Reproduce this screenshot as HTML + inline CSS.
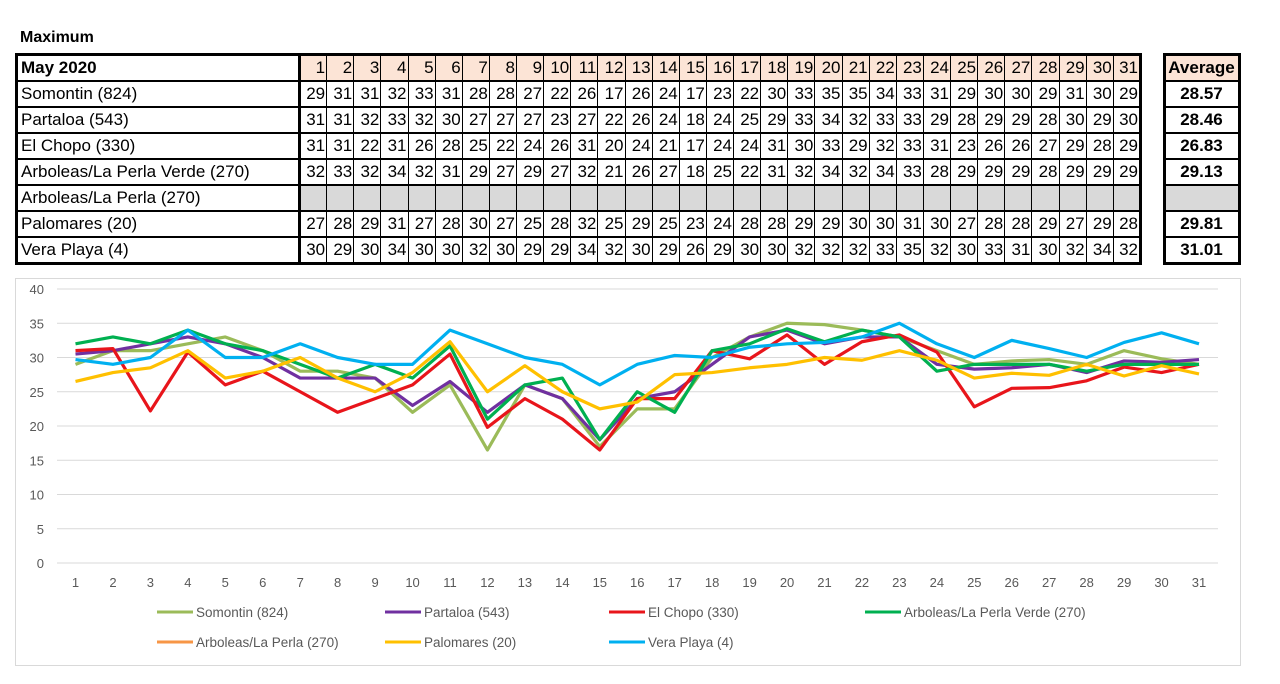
<!DOCTYPE html>
<html><head><meta charset="utf-8">
<style>
body{margin:0;width:1280px;height:684px;background:#fff;font-family:"Liberation Sans",sans-serif;position:relative;overflow:hidden}
#title{position:absolute;left:20px;top:29px;font-weight:bold;font-size:16px}
table{border-collapse:collapse;position:absolute;font-size:17px;font-family:"Liberation Sans Narrow","Liberation Sans",sans-serif;table-layout:fixed}
td{border:1px solid #000;height:24px;padding:0 1px 0 0;text-align:right;overflow:hidden;white-space:nowrap}
#main{left:15px;top:53px;width:1127px;border:3px solid #000}
#main td.lab{text-align:left;padding-left:3px;border-right:3px solid #000}
#main tr{border-bottom:2px solid #000}
.h td.d{background:#fce4d6}
.g td.d{background:#d9d9d9}
#avg{left:1163px;top:53px;width:78px;border:3px solid #000}
#avg td{text-align:center;font-weight:bold}
#avg tr{border-bottom:2px solid #000}
#chart{position:absolute;left:0;top:0}
</style></head><body>
<div id="title">Maximum</div>
<table id="main"></table>
<table id="avg"></table>
<svg id="chart" width="1280" height="684"></svg>
<script>
const days=[1,2,3,4,5,6,7,8,9,10,11,12,13,14,15,16,17,18,19,20,21,22,23,24,25,26,27,28,29,30,31];
const seriesNames=["Somontin (824)","Partaloa (543)","El Chopo (330)","Arboleas/La Perla Verde (270)","Arboleas/La Perla (270)","Palomares (20)","Vera Playa (4)"];
const somontin=[29,31,31,32,33,31,28,28,27,22,26,16.5,26,24,17,22.5,22.5,30,33,35,34.8,34,33,31,29,29.5,29.7,29,31,29.8,29];
const partaloa=[30.5,31,32,33,32,30,27,27,27,23,26.5,22,26,24,18,24,25,29,33,34,32,33,33,29,28.3,28.5,29,27.8,29.5,29.3,29.7];
const elChopo=[31,31.3,22.2,30.8,26,28,25,22,24,26,30.5,19.8,24,21,16.5,24,24,31,29.8,33.3,29,32.3,33.3,30.8,22.8,25.5,25.6,26.6,28.6,27.8,29];
const arboleasVerde=[32,33,32,34,32,31,29,27,29,27,31.7,21,26,27,18,25,22,31,32,34.2,32.3,34,33,28,29,29,29,28,29,29,29];
const arboleas=[];
const palomares=[26.5,27.8,28.5,31,27,28,30,27,25,27.8,32.3,25,28.8,25,22.5,23.5,27.5,27.8,28.5,29,30,29.6,31,29.6,27,27.7,27.4,29,27.3,28.8,27.6];
const veraPlaya=[29.7,29,30,34,30,30,32,30,29,29,34,32,30,29,26,29,30.3,30,31.5,32,32.2,33,35,32,30,32.5,31.3,30,32.2,33.6,32];
const tableRows=[
[29,31,31,32,33,31,28,28,27,22,26,17,26,24,17,23,22,30,33,35,35,34,33,31,29,30,30,29,31,30,29],
[31,31,32,33,32,30,27,27,27,23,27,22,26,24,18,24,25,29,33,34,32,33,33,29,28,29,29,28,30,29,30],
[31,31,22,31,26,28,25,22,24,26,31,20,24,21,17,24,24,31,30,33,29,32,33,31,23,26,26,27,29,28,29],
[32,33,32,34,32,31,29,27,29,27,32,21,26,27,18,25,22,31,32,34,32,34,33,28,29,29,29,28,29,29,29],
[],
[27,28,29,31,27,28,30,27,25,28,32,25,29,25,23,24,28,28,29,29,30,30,31,30,27,28,28,29,27,29,28],
[30,29,30,34,30,30,32,30,29,29,34,32,30,29,26,29,30,30,32,32,32,33,35,32,30,33,31,30,32,34,32]];
const averages=["28.57","28.46","26.83","29.13","","29.81","31.01"];
const yTicks=[0,5,10,15,20,25,30,35,40];
const colors=["#9bbb59","#7030a0","#e8151b","#00b050","#f79646","#ffc000","#00b0f0"];
const allSeries=[somontin,partaloa,elChopo,arboleasVerde,arboleas,palomares,veraPlaya];

const main=document.getElementById('main'),avg=document.getElementById('avg');
let h='<colgroup><col style="width:283px">'+days.map(()=>'<col>').join('')+'</colgroup>';
h+='<tr class="h"><td class="lab" style="font-weight:bold">May 2020</td>'+days.map(d=>'<td class="d">'+d+'</td>').join('')+'</tr>';
seriesNames.forEach((n,i)=>{h+='<tr class="'+(tableRows[i].length?'':'g')+'"><td class="lab">'+n+'</td>'+days.map((d,j)=>'<td class="d">'+(tableRows[i].length?tableRows[i][j]:'')+'</td>').join('')+'</tr>';});
main.innerHTML=h;
let a='<tr><td style="background:#fce4d6">Average</td></tr>';
averages.forEach(v=>{a+='<tr><td style="'+(v?'':'background:#d9d9d9')+'">'+v+'</td></tr>';});
avg.innerHTML=a;

const svg=document.getElementById('chart');const NS='http://www.w3.org/2000/svg';
function mk(t,at,txt){const e=document.createElementNS(NS,t);for(const k in at)e.setAttribute(k,at[k]);if(txt!==undefined)e.textContent=txt;svg.appendChild(e);return e;}
const x=d=>75.5+(d-1)*(1199-75.5)/30;
const y=v=>563-v*(563-289)/40;
const frame=mk('rect',{x:15.5,y:278.5,width:1225,height:387,fill:'none',stroke:'#d9d9d9'});


yTicks.forEach(t=>{
 const l=mk('line',{x1:57,x2:1218,y1:y(t),y2:y(t),stroke:'#d9d9d9','stroke-width':1});
 
 
 const tx=mk('text',{x:44,y:y(t)+5,'text-anchor':'end','font-size':13,fill:'#595959'},t);
 
 
});
days.forEach(d=>{
 const tx=mk('text',{x:x(d),y:587,'text-anchor':'middle','font-size':13,fill:'#595959'},d);
 
 
});
allSeries.forEach((s,i)=>{
 if(!s.length)return;
 const p=mk('polyline',{points:s.map((v,j)=>x(days[j])+','+y(v)).join(' '),fill:'none',stroke:colors[i],'stroke-width':3.2,'stroke-linejoin':'round'});
 
 
});
const legX=[157,385,609,865],legY=[612,642];
seriesNames.forEach((n,i)=>{
 const lx=legX[i%4],ly=legY[Math.floor(i/4)];
 const l=mk('line',{x1:lx,x2:lx+36,y1:ly,y2:ly,stroke:colors[i],'stroke-width':3});
 
 
 const t=mk('text',{x:lx+39,y:ly+5,'font-size':13.5,fill:'#595959'},n);
 
 
});
</script>
</body></html>
